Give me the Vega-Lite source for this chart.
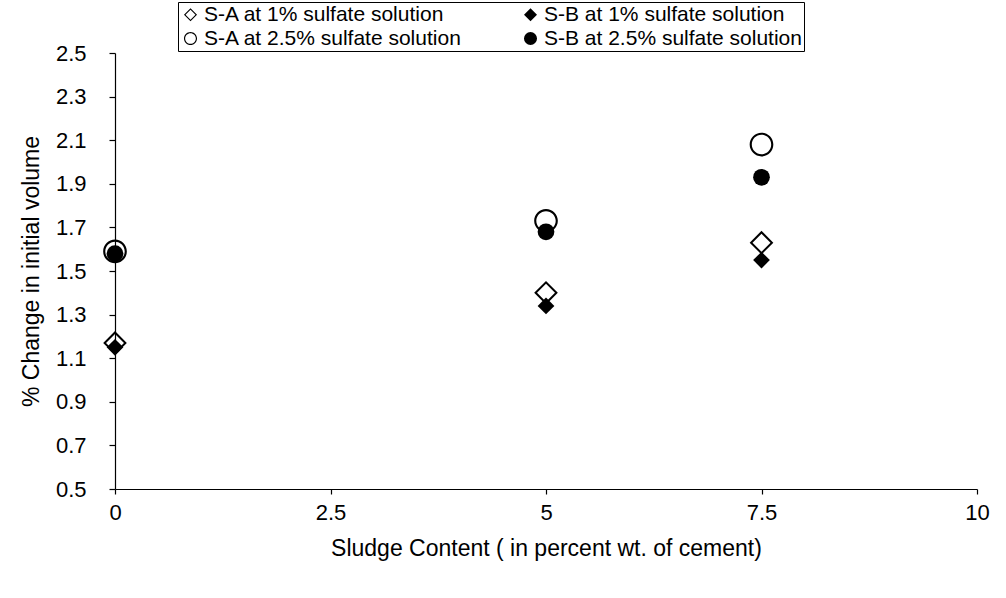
{
  "$schema": "https://vega.github.io/schema/vega-lite/v6.json",
  "width": 862,
  "height": 436,
  "autosize": {"type": "none"},
  "padding": {"left": 115, "top": 53, "right": 29, "bottom": 109},
  "background": "white",
  "config": {
    "view": {"stroke": null},
    "font": "Liberation Sans",
    "axis": {"grid": false, "domainColor": "black", "tickColor": "black", "labelColor": "black", "titleColor": "black", "labelFont": "Liberation Sans", "titleFont": "Liberation Sans", "titleFontWeight": "normal", "domainWidth": 1.2, "tickWidth": 1.2}
  },
  "data": {
    "values": [
      {"series": "S-A at 1% sulfate solution", "open": true, "x": 0, "y": 1.17},
      {"series": "S-A at 1% sulfate solution", "open": true, "x": 5, "y": 1.40},
      {"series": "S-A at 1% sulfate solution", "open": true, "x": 7.5, "y": 1.63},
      {"series": "S-B at 1% sulfate solution", "open": false, "x": 0, "y": 1.15},
      {"series": "S-B at 1% sulfate solution", "open": false, "x": 5, "y": 1.34},
      {"series": "S-B at 1% sulfate solution", "open": false, "x": 7.5, "y": 1.55},
      {"series": "S-A at 2.5% sulfate solution", "open": true, "x": 0, "y": 1.59},
      {"series": "S-A at 2.5% sulfate solution", "open": true, "x": 5, "y": 1.73},
      {"series": "S-A at 2.5% sulfate solution", "open": true, "x": 7.5, "y": 2.08},
      {"series": "S-B at 2.5% sulfate solution", "open": false, "x": 0, "y": 1.58},
      {"series": "S-B at 2.5% sulfate solution", "open": false, "x": 5, "y": 1.68},
      {"series": "S-B at 2.5% sulfate solution", "open": false, "x": 7.5, "y": 1.93}
    ]
  },
  "encoding": {
    "x": {
      "field": "x", "type": "quantitative",
      "scale": {"domain": [0, 10], "nice": false, "zero": false},
      "axis": {"values": [0, 2.5, 5, 7.5, 10], "labelExpr": "'' + datum.value", "title": "Sludge Content ( in percent wt. of cement)", "labelFontSize": 22, "titleFontSize": 23, "tickSize": 5, "labelPadding": 8, "titlePadding": 14, "labelFlush": false}
    },
    "y": {
      "field": "y", "type": "quantitative",
      "scale": {"domain": [0.5, 2.5], "nice": false, "zero": false},
      "axis": {"values": [0.5, 0.7, 0.9, 1.1, 1.3, 1.5, 1.7, 1.9, 2.1, 2.3, 2.5], "format": ".1f", "title": "% Change in initial volume", "labelFontSize": 22, "titleFontSize": 23, "tickSize": 6, "labelPadding": 23, "titlePadding": 12}
    },
    "shape": {
      "field": "series", "type": "nominal",
      "scale": {
        "domain": ["S-A at 1% sulfate solution", "S-B at 1% sulfate solution", "S-A at 2.5% sulfate solution", "S-B at 2.5% sulfate solution"],
        "range": [
          "M0,-1L1,0L0,1L-1,0Z M0,-0.76L-0.76,0L0,0.76L0.76,0Z",
          "diamond",
          "M-1,0A1,1,0,1,1,1,0A1,1,0,1,1,-1,0Z M-0.82,0A0.82,0.82,0,1,0,0.82,0A0.82,0.82,0,1,0,-0.82,0Z",
          "circle"
        ]
      },
      "legend": {
        "title": null, "orient": "none", "legendX": 63, "legendY": -51, "columns": 2, "direction": "horizontal",
        "labelFontSize": 21, "labelFont": "Liberation Sans", "labelColor": "black", "symbolSize": 170, "symbolStrokeWidth": 0,
        "symbolFillColor": "black", "strokeColor": "black", "fillColor": "white", "padding": 2, "rowPadding": 2, "columnPadding": 58, "labelOffset": 3, "labelLimit": 400
      }
    },
    "color": {"value": "black"}
  },
  "layer": [
    {
      "transform": [{"filter": "datum.open"}],
      "mark": {"type": "point", "filled": true, "opacity": 1, "size": 560}
    },
    {
      "transform": [{"filter": "!datum.open"}],
      "mark": {"type": "point", "filled": true, "opacity": 1, "size": 280}
    }
  ]
}
